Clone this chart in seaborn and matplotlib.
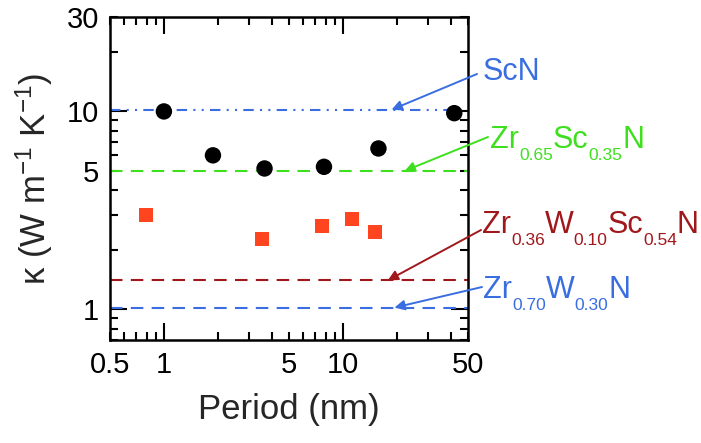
import numpy as np
import pandas as pd
import matplotlib
matplotlib.use("Agg")
import matplotlib.pyplot as plt
import matplotlib.ticker as mticker
import seaborn as sns

# superlattice data
period_circ = [1.0, 1.88, 3.65, 7.84, 15.8, 41.9]
kappa_circ = [10.0, 6.0, 5.15, 5.25, 6.5, 9.8]

period_sq = [0.79, 3.53, 7.67, 11.3, 15.1]
kappa_sq = [3.0, 2.27, 2.63, 2.87, 2.46]

# reference alloy / ScN levels, labels as (text, is_subscript) pieces
ref_names = [
    [("ScN", False)],
    [("Zr", False), ("0.65", True), ("Sc", False), ("0.35", True), ("N", False)],
    [("Zr", False), ("0.36", True), ("W", False), ("0.10", True), ("Sc", False), ("0.54", True), ("N", False)],
    [("Zr", False), ("0.70", True), ("W", False), ("0.30", True), ("N", False)],
]
ref_kappa = [10.2, 5.0, 1.40, 1.02]
ref_colors = ["#3a6ee0", "#3ee01e", "#a0181c", "#3a6ee0"]
ref_styles = [(0, (5, 3, 1, 3, 1, 3)), (0, (6, 4)), (0, (6, 4)), (0, (6, 4))]

# label left/baseline (figure pixels from top-left), arrow tail px, arrow head x (data)
label_px = [(483, 80), (490, 148), (482, 233), (483, 298)]
tail_px = [(477, 74), (488, 137), (481, 230), (482, 287)]
head_x = [18.7, 22.1, 17.8, 19.4]

sns.set_theme(style="ticks")
plt.rcParams["font.family"] = ["Liberation Sans", "DejaVu Sans"]
plt.rcParams["mathtext.fontset"] = "custom"
plt.rcParams["mathtext.rm"] = "Liberation Sans"
plt.rcParams["mathtext.it"] = "Liberation Sans"
plt.rcParams["mathtext.default"] = "regular"

W, H = 701, 443
fig = plt.figure(figsize=(W / 100, H / 100), dpi=100)
ax = fig.add_axes([110 / W, 1 - 340 / H, (468 - 110) / W, (340 - 17) / H])

for y, c, ls in zip(ref_kappa, ref_colors, ref_styles):
    ax.axhline(y, color=c, lw=1.5, linestyle=ls, zorder=1)

df_c = pd.DataFrame({"period": period_circ, "kappa": kappa_circ})
df_s = pd.DataFrame({"period": period_sq, "kappa": kappa_sq})
sns.scatterplot(data=df_c, x="period", y="kappa", ax=ax, color="black",
                marker="o", s=140, edgecolor="none", zorder=3)
sns.scatterplot(data=df_s, x="period", y="kappa", ax=ax, color="#ff4420",
                marker="s", s=100, edgecolor="none", zorder=3)

ax.set_xscale("log")
ax.set_yscale("log")
ax.set_xlim(0.5, 50)
ax.set_ylim(0.7, 30)

for axis in (ax.xaxis, ax.yaxis):
    axis.set_major_locator(mticker.LogLocator(base=10, subs=(1.0,)))
    axis.set_minor_locator(mticker.LogLocator(base=10, subs=np.arange(2, 10)))

x_labels = {0.5: "0.5", 1: "1", 5: "5", 10: "10", 50: "50"}
y_labels = {1: "1", 5: "5", 10: "10", 30: "30"}


def pick(labels):
    def fmt(v, pos):
        for k, s in labels.items():
            if abs(v - k) / k < 1e-6:
                return s
        return ""
    return mticker.FuncFormatter(fmt)


ax.xaxis.set_major_formatter(pick(x_labels))
ax.xaxis.set_minor_formatter(pick(x_labels))
ax.yaxis.set_major_formatter(pick(y_labels))
ax.yaxis.set_minor_formatter(pick(y_labels))

ax.tick_params(which="both", direction="in", top=True, right=True,
               labelsize=21, color="black", labelcolor="black", width=1.5)
ax.tick_params(which="major", length=12, pad=8)
ax.tick_params(which="minor", length=6, pad=8)
for sp in ax.spines.values():
    sp.set_linewidth(1.8)
    sp.set_color("black")

ax.set_xlabel("Period (nm)", fontsize=25, labelpad=10)
ax.set_ylabel("κ (W m$^{-1}$ K$^{-1}$)", fontsize=25, labelpad=8)

# chemical formula labels, built piece by piece so subscripts can be small
renderer = fig.canvas.get_renderer()
for pieces, c, (lx, ly) in zip(ref_names, ref_colors, label_px):
    x = lx
    for txt, sub in pieces:
        yy = ly + 12 if sub else ly
        t = fig.text(x / W, 1 - yy / H, txt, color=c,
                     fontsize=12.5 if sub else 22, ha="left", va="baseline")
        x += t.get_window_extent(renderer).width

# arrows pointing at the reference lines
for y, c, (tx, ty), hx in zip(ref_kappa, ref_colors, tail_px, head_x):
    ax.annotate("", xy=(hx, y), xycoords="data",
                xytext=(tx / W, 1 - ty / H), textcoords="figure fraction",
                arrowprops=dict(arrowstyle="-|>", color=c, lw=1.4,
                                mutation_scale=15, shrinkA=0, shrinkB=0),
                annotation_clip=False)

fig.savefig("out.png", dpi=100)
